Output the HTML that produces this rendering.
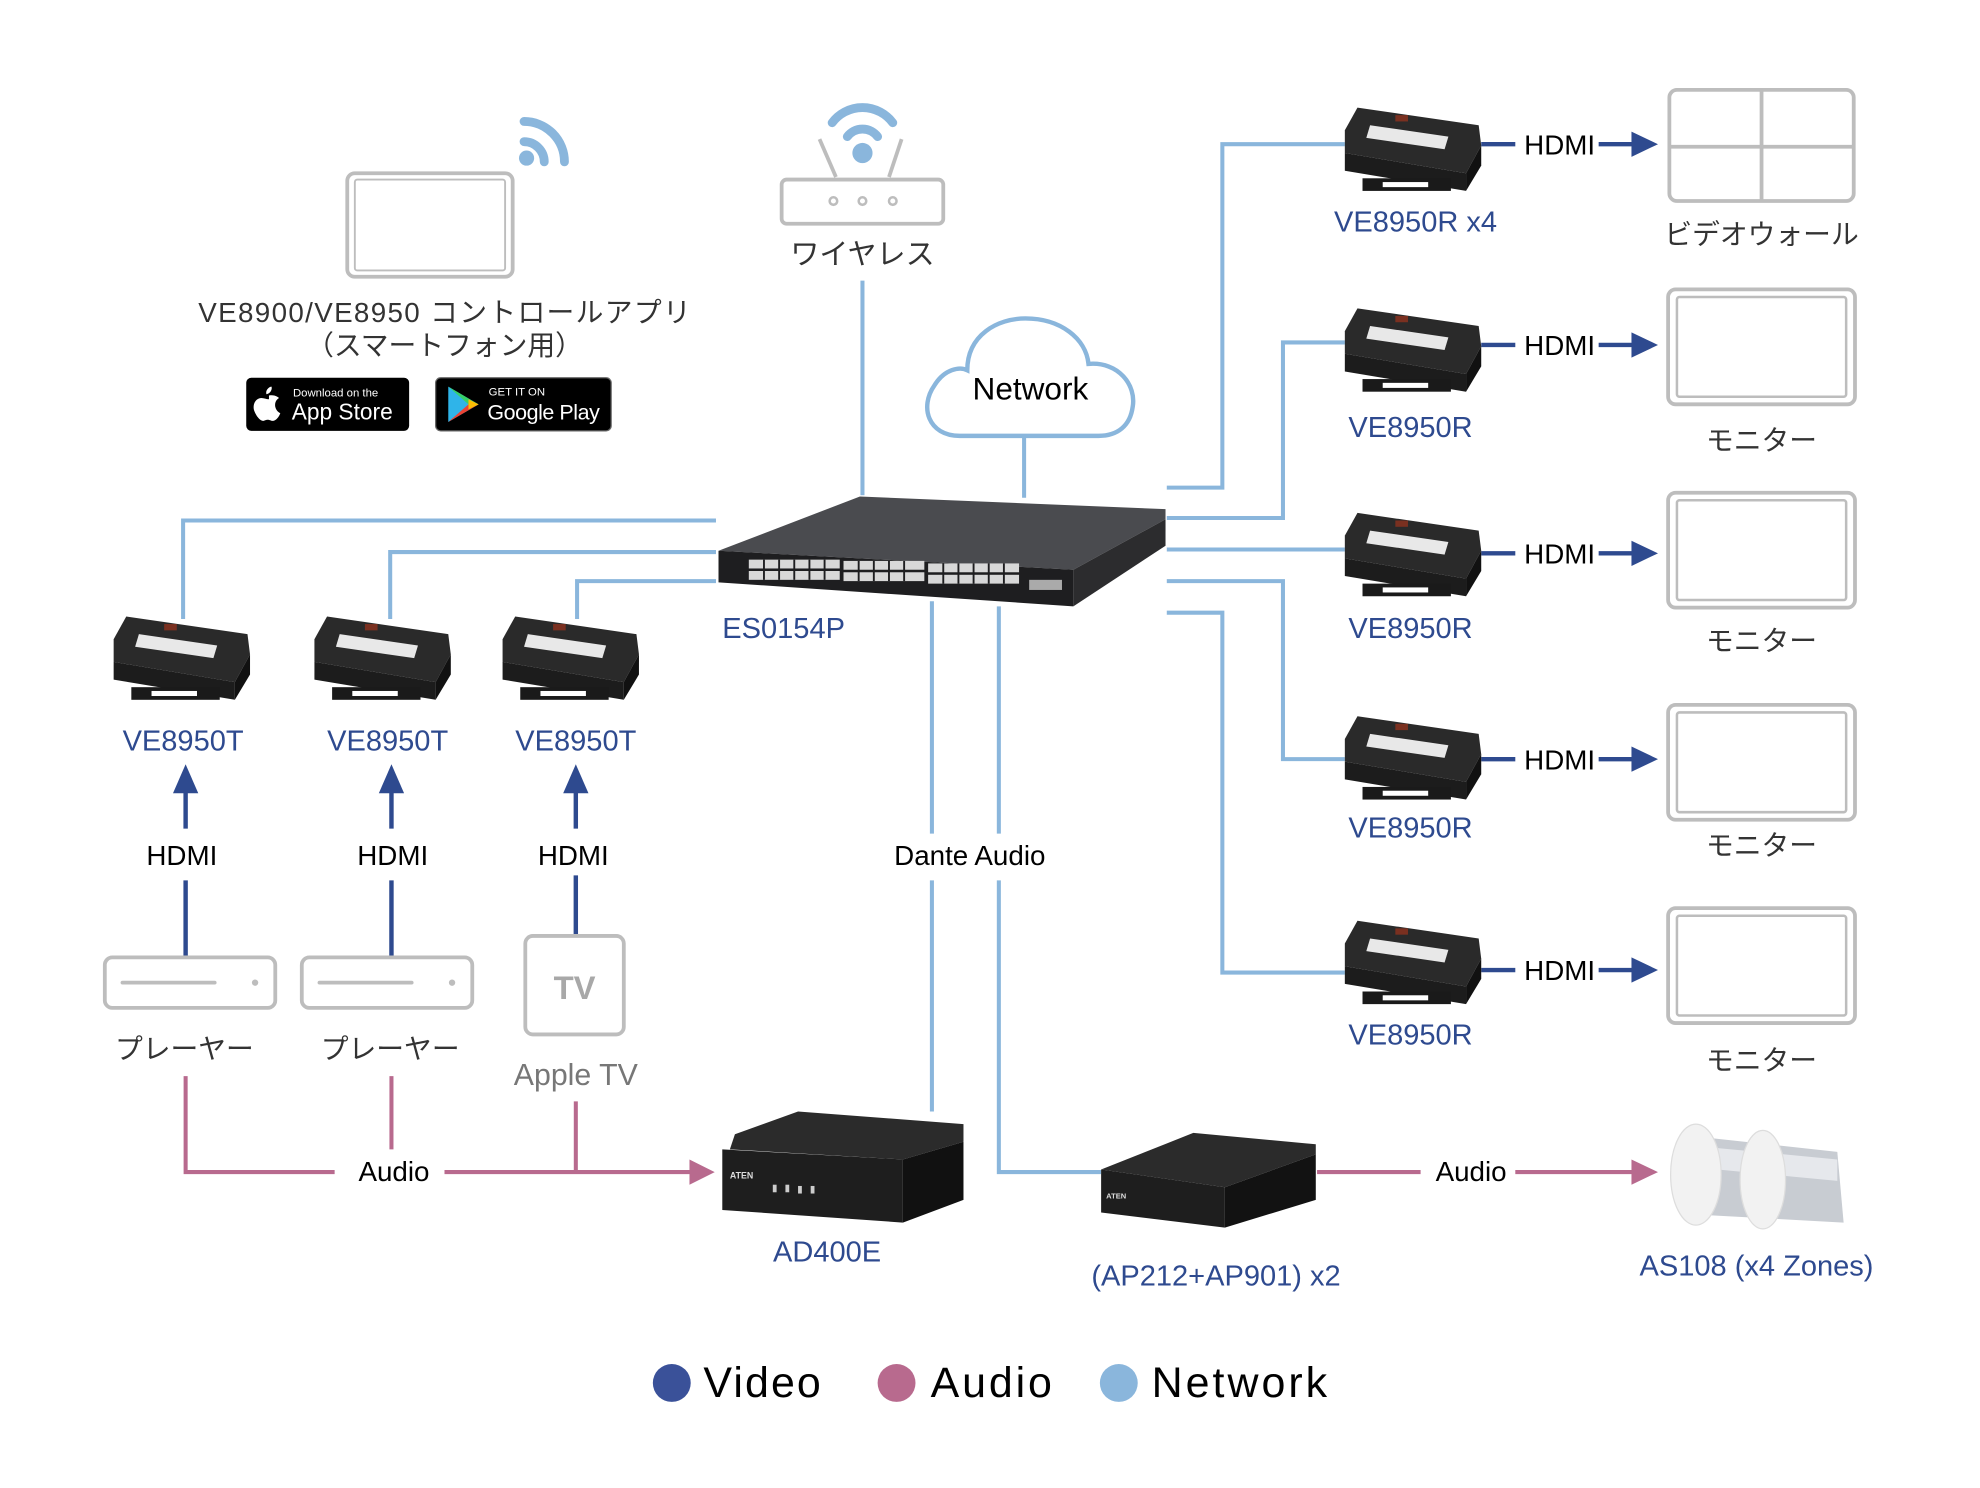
<!DOCTYPE html>
<html><head><meta charset="utf-8"><style>
html,body{margin:0;padding:0;background:#fff;}
svg{display:block;}
text{font-family:"Liberation Sans","Noto Sans CJK JP",sans-serif;}
</style></head><body>
<svg width="1980" height="1488" viewBox="0 0 1568 1178" xmlns="http://www.w3.org/2000/svg">
<defs>
<g id="dev">
 <polygon points="10,0 106,14 108,30 96,52 0,36 0,18" fill="#2a2a2a"/>
 <polygon points="0,36 96,52 96,66 0,50" fill="#1c1c1c"/>
 <polygon points="96,52 108,30 108,46 96,66" fill="#111"/>
 <polygon points="20,14 82,23 79,33 17,24" fill="#e8e8e8"/>
 <rect x="40" y="6" width="10" height="5" fill="#7a3020"/>
 <rect x="14" y="56" width="70" height="10" fill="#1a1a1a"/>
 <rect x="30" y="59" width="36" height="4" fill="#fff"/>
</g>
<g id="mon">
 <rect x="0" y="0" width="148" height="91" rx="6" fill="#fff" stroke="#bdbdbd" stroke-width="3"/>
 <rect x="7" y="6" width="134" height="79" rx="2" fill="none" stroke="#bdbdbd" stroke-width="2"/>
</g>
</defs>

<g stroke="#8ab6dc" stroke-width="3.2" fill="none">
 <line x1="683" y1="222" x2="683" y2="392"/>
 <line x1="811" y1="345" x2="811" y2="394"/>
 <polyline points="567,412 145,412 145,490"/>
 <polyline points="567,437 309,437 309,490"/>
 <polyline points="567,460 457,460 457,490"/>
 <polyline points="924,386 968,386 968,114 1065,114"/>
 <polyline points="924,410 1016,410 1016,271 1065,271"/>
 <line x1="924" y1="435" x2="1065" y2="435"/>
 <polyline points="924,460 1016,460 1016,601 1065,601"/>
 <polyline points="924,485 968,485 968,770 1065,770"/>
 <line x1="738" y1="476" x2="738" y2="660"/>
 <line x1="738" y1="697" x2="738" y2="880"/>
 <line x1="791" y1="480" x2="791" y2="660"/>
 <polyline points="791,697 791,928 872,928"/>
</g>

<g stroke="#2e4a8f" stroke-width="3.5" fill="#2e4a8f">
 <line x1="147" y1="656" x2="147" y2="620"/><polygon points="137,628 147,605 157,628" stroke="none"/>
 <line x1="310" y1="656" x2="310" y2="620"/><polygon points="300,628 310,605 320,628" stroke="none"/>
 <line x1="456" y1="656" x2="456" y2="620"/><polygon points="446,628 456,605 466,628" stroke="none"/>
 <line x1="147" y1="697" x2="147" y2="757"/>
 <line x1="310" y1="697" x2="310" y2="757"/>
 <line x1="456" y1="693" x2="456" y2="740"/>
</g>
<g stroke="#2e4a8f" stroke-width="3.5" fill="#2e4a8f">
 <line x1="1173" y1="114" x2="1200" y2="114"/><line x1="1266" y1="114" x2="1298" y2="114"/><polygon points="1292,104 1313,114 1292,124" stroke="none"/>
 <line x1="1173" y1="273" x2="1200" y2="273"/><line x1="1266" y1="273" x2="1298" y2="273"/><polygon points="1292,263 1313,273 1292,283" stroke="none"/>
 <line x1="1173" y1="438" x2="1200" y2="438"/><line x1="1266" y1="438" x2="1298" y2="438"/><polygon points="1292,428 1313,438 1292,448" stroke="none"/>
 <line x1="1173" y1="601" x2="1200" y2="601"/><line x1="1266" y1="601" x2="1298" y2="601"/><polygon points="1292,591 1313,601 1292,611" stroke="none"/>
 <line x1="1173" y1="768" x2="1200" y2="768"/><line x1="1266" y1="768" x2="1298" y2="768"/><polygon points="1292,758 1313,768 1292,778" stroke="none"/>
</g>

<g stroke="#b86a8e" stroke-width="3.2" fill="none">
 <polyline points="147,852 147,928 265,928"/>
 <line x1="310" y1="852" x2="310" y2="910"/>
 <line x1="456" y1="872" x2="456" y2="928"/>
 <line x1="352" y1="928" x2="552" y2="928"/>
 <line x1="1043" y1="928" x2="1125" y2="928"/>
 <line x1="1200" y1="928" x2="1298" y2="928"/>
</g>
<polygon points="546,918 566,928 546,938" fill="#b86a8e"/>
<polygon points="1292,918 1313,928 1292,938" fill="#b86a8e"/>

<rect x="275" y="137" width="131" height="82" rx="6" fill="#fff" stroke="#bdbdbd" stroke-width="3"/>
<rect x="281" y="142" width="119" height="72" rx="2" fill="none" stroke="#bdbdbd" stroke-width="1.5"/>
<g fill="none" stroke="#8ab6dc" stroke-width="7" stroke-linecap="round">
 <path d="M415,112 A16,16 0 0 1 431,128"/>
 <path d="M415,96 A32,32 0 0 1 447,128"/>
</g>
<circle cx="417" cy="125" r="6" fill="#8ab6dc"/>
<text x="352" y="255" font-size="22" fill="#333" text-anchor="middle" textLength="390">VE8900/VE8950 コントロールアプリ</text>
<text x="352" y="281" font-size="22" fill="#333" text-anchor="middle">（スマートフォン用）</text>
<rect x="195" y="299" width="129" height="42" rx="4" fill="#000"/>
<path d="M213,313 c5,-1 8,2 8,2 c0,0 -4,2 -3,7 c1,4 4,5 4,5 c-1,3 -4,7 -7,6 c-3,-1 -3,-1 -6,0 c-3,1 -7,-5 -8,-9 c-1,-6 3,-9 6,-9 c2,0 4,1 6,1 z M215,306 c1,3 -2,6 -4,6 c-1,-3 2,-6 4,-6z" fill="#fff"/>
<text x="232" y="314" font-size="9" fill="#fff">Download on the</text>
<text x="231" y="332" font-size="18" fill="#fff">App Store</text>
<rect x="345" y="299" width="139" height="42" rx="4" fill="#000" stroke="#666" stroke-width="1"/>
<polygon points="355,306 379,320 355,334" fill="#2fb4e9"/>
<polygon points="355,306 371,320 379,320" fill="#37d067"/>
<polygon points="371,320 379,320 355,334" fill="#ea4335"/>
<polygon points="371,316 379,320 371,324" fill="#fbbc04"/>
<text x="387" y="313" font-size="9" fill="#fff">GET IT ON</text>
<text x="386" y="332" font-size="17" fill="#fff" textLength="89">Google Play</text>

<rect x="619" y="142" width="128" height="35" rx="4" fill="#fff" stroke="#bdbdbd" stroke-width="3"/>
<line x1="662" y1="140" x2="649" y2="110" stroke="#bdbdbd" stroke-width="3"/>
<line x1="704" y1="140" x2="714" y2="110" stroke="#bdbdbd" stroke-width="3"/>
<g fill="none" stroke="#bdbdbd" stroke-width="2"><circle cx="660" cy="159" r="3"/><circle cx="683" cy="159" r="3"/><circle cx="707" cy="159" r="3"/></g>
<g fill="none" stroke="#8ab6dc" stroke-width="7" stroke-linecap="round">
 <path d="M659,97 A30,30 0 0 1 707,97"/>
 <path d="M671,108 A15,15 0 0 1 695,108"/>
</g>
<circle cx="683" cy="121" r="8" fill="#8ab6dc"/>
<text x="683" y="209" font-size="23" fill="#333" text-anchor="middle">ワイヤレス</text>

<path d="M760,345 C735,345 728,322 740,305 C748,292 760,290 766,293 C766,265 790,252 812,252 C840,252 860,268 862,288 C886,286 900,305 897,322 C895,337 885,345 870,345 Z" fill="#fff" stroke="#8ab6dc" stroke-width="3.5"/>
<text x="816" y="316" font-size="25" fill="#000" text-anchor="middle">Network</text>

<polygon points="569,436 681,393 923,403 923,411 850,451" fill="#4a4b4f"/>
<polygon points="569,436 850,451 850,480 569,461" fill="#1e1e20"/>
<polygon points="850,451 923,411 923,432 850,480" fill="#2c2c2e"/>
<g fill="#d8d8d8">
 <rect x="593" y="443" width="72" height="7"/><rect x="593" y="452" width="72" height="7"/>
 <rect x="668" y="444" width="64" height="7"/><rect x="668" y="453" width="64" height="7"/>
 <rect x="735" y="446" width="72" height="7"/><rect x="735" y="455" width="72" height="7"/>
 <rect x="815" y="459" width="26" height="8" fill="#aaa"/>
</g>
<g stroke="#1e1e20" stroke-width="1.5">
 <line x1="605" y1="443" x2="605" y2="459"/><line x1="617" y1="443" x2="617" y2="459"/><line x1="629" y1="443" x2="629" y2="459"/><line x1="641" y1="443" x2="641" y2="459"/><line x1="653" y1="443" x2="653" y2="459"/>
 <line x1="680" y1="444" x2="680" y2="460"/><line x1="692" y1="444" x2="692" y2="460"/><line x1="704" y1="444" x2="704" y2="460"/><line x1="716" y1="444" x2="716" y2="460"/>
 <line x1="747" y1="446" x2="747" y2="462"/><line x1="759" y1="446" x2="759" y2="462"/><line x1="771" y1="446" x2="771" y2="462"/><line x1="783" y1="446" x2="783" y2="462"/><line x1="795" y1="446" x2="795" y2="462"/>
</g>
<text x="572" y="505" font-size="23" fill="#2e4a8f">ES0154P</text>

<use href="#dev" transform="translate(90,488)"/>
<use href="#dev" transform="translate(249,488)"/>
<use href="#dev" transform="translate(398,488)"/>
<g font-size="23" fill="#2e4a8f" text-anchor="middle">
 <text x="145" y="594">VE8950T</text><text x="307" y="594">VE8950T</text><text x="456" y="594">VE8950T</text>
</g>
<g font-size="22" fill="#000" text-anchor="middle">
 <text x="144" y="685">HDMI</text><text x="311" y="685">HDMI</text><text x="454" y="685">HDMI</text>
 <text x="768" y="685">Dante Audio</text>
 <text x="312" y="935">Audio</text><text x="1165" y="935">Audio</text>
</g>

<rect x="83" y="758" width="135" height="40" rx="6" fill="#fff" stroke="#bdbdbd" stroke-width="3"/>
<line x1="97" y1="778" x2="170" y2="778" stroke="#bdbdbd" stroke-width="3" stroke-linecap="round"/><circle cx="202" cy="778" r="2.5" fill="#bdbdbd"/>
<rect x="239" y="758" width="135" height="40" rx="6" fill="#fff" stroke="#bdbdbd" stroke-width="3"/>
<line x1="253" y1="778" x2="326" y2="778" stroke="#bdbdbd" stroke-width="3" stroke-linecap="round"/><circle cx="358" cy="778" r="2.5" fill="#bdbdbd"/>
<rect x="416" y="741" width="78" height="78" rx="6" fill="#fff" stroke="#bdbdbd" stroke-width="3"/>
<text x="455" y="791" font-size="26" font-weight="bold" fill="#a8a8a8" text-anchor="middle">TV</text>
<g font-size="22" fill="#333" text-anchor="middle">
 <text x="146" y="838">プレーヤー</text><text x="309" y="838">プレーヤー</text>
</g>
<text x="456" y="859" font-size="24" fill="#777" text-anchor="middle">Apple TV</text>

<use href="#dev" transform="translate(1065,85)"/>
<use href="#dev" transform="translate(1065,244)"/>
<use href="#dev" transform="translate(1065,406)"/>
<use href="#dev" transform="translate(1065,567)"/>
<use href="#dev" transform="translate(1065,729)"/>
<g font-size="23" fill="#2e4a8f" text-anchor="middle">
 <text x="1121" y="183">VE8950R x4</text>
 <text x="1117" y="346">VE8950R</text><text x="1117" y="505">VE8950R</text>
 <text x="1117" y="663">VE8950R</text><text x="1117" y="827">VE8950R</text>
</g>
<g font-size="22" fill="#000">
 <text x="1207" y="122">HDMI</text><text x="1207" y="281">HDMI</text><text x="1207" y="446">HDMI</text>
 <text x="1207" y="609">HDMI</text><text x="1207" y="776">HDMI</text>
</g>

<rect x="1322" y="71" width="146" height="88" rx="6" fill="#fff" stroke="#bdbdbd" stroke-width="3"/>
<line x1="1395" y1="71" x2="1395" y2="159" stroke="#bdbdbd" stroke-width="3"/>
<line x1="1322" y1="116" x2="1468" y2="116" stroke="#bdbdbd" stroke-width="3"/>
<use href="#mon" transform="translate(1321,229)"/>
<use href="#mon" transform="translate(1321,390)"/>
<use href="#mon" transform="translate(1321,558)"/>
<use href="#mon" transform="translate(1321,719)"/>
<g font-size="22" fill="#333" text-anchor="middle">
 <text x="1395" y="193">ビデオウォール</text>
 <text x="1395" y="356">モニター</text><text x="1395" y="515">モニター</text>
 <text x="1395" y="677">モニター</text><text x="1395" y="847">モニター</text>
</g>

<polygon points="582,898 632,880 763,890 763,904 715,918 578,910" fill="#2b2b2b"/>
<polygon points="572,910 715,918 715,968 572,958" fill="#1e1e1e"/>
<polygon points="715,918 763,904 763,950 715,968" fill="#111"/>
<g fill="#ccc"><rect x="612" y="938" width="3" height="6"/><rect x="622" y="938" width="3" height="6"/><rect x="632" y="939" width="3" height="6"/><rect x="642" y="939" width="3" height="6"/></g>
<text x="578" y="933" font-size="7" fill="#ddd" font-weight="bold">ATEN</text>
<text x="655" y="999" font-size="23" fill="#2e4a8f" text-anchor="middle">AD400E</text>

<polygon points="872,926 945,897 1042,906 1042,914 970,940" fill="#2b2b2b"/>
<polygon points="872,926 970,940 970,972 872,960" fill="#1e1e1e"/>
<polygon points="970,940 1042,914 1042,950 970,972" fill="#121212"/>
<text x="876" y="949" font-size="6" fill="#ddd" font-weight="bold">ATEN</text>
<text x="963" y="1018" font-size="23" fill="#2e4a8f" text-anchor="middle">(AP212+AP901) x2</text>

<polygon points="1345,900 1455,912 1460,968 1350,962" fill="#c8ccd2"/>
<polygon points="1350,908 1455,918 1455,935 1350,925" fill="#e6e8ec"/>
<ellipse cx="1343" cy="930" rx="20" ry="40" fill="#f2f2f2" stroke="#ddd"/>
<ellipse cx="1396" cy="934" rx="18" ry="39" fill="#f2f2f2" stroke="#ddd"/>
<text x="1391" y="1010" font-size="23" fill="#2e4a8f" text-anchor="middle">AS108 (x4 Zones)</text>

<circle cx="532" cy="1095" r="15" fill="#3a5199"/>
<text x="557" y="1106" font-size="34" fill="#000" textLength="93">Video</text>
<circle cx="710" cy="1095" r="15" fill="#b86a8e"/>
<text x="737" y="1106" font-size="34" fill="#000" textLength="96">Audio</text>
<circle cx="886" cy="1095" r="15" fill="#8ab6dc"/>
<text x="912" y="1106" font-size="34" fill="#000" textLength="139">Network</text>
</svg>
</body></html>
